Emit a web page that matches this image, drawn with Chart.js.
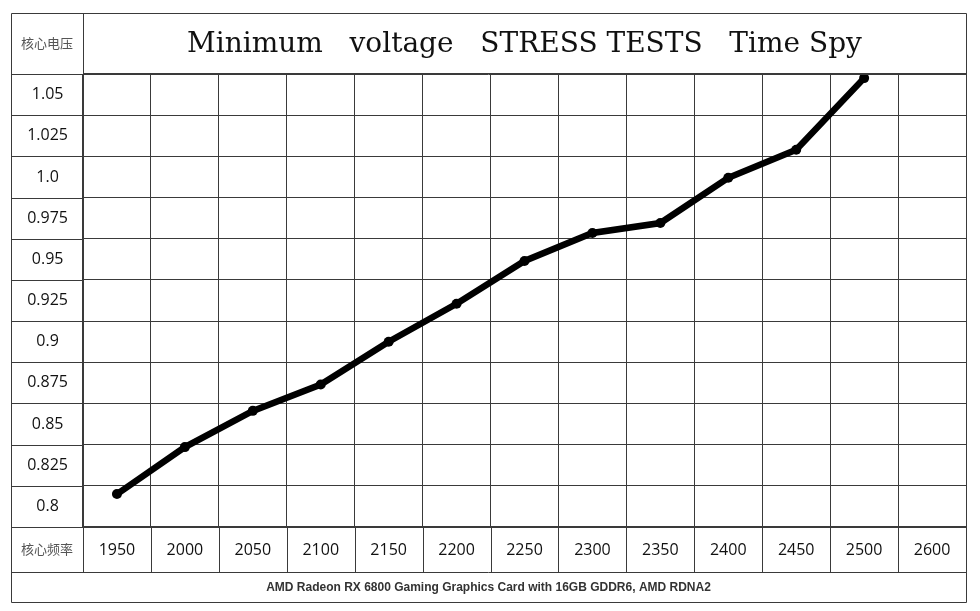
<!DOCTYPE html>
<html>
<head>
<meta charset="utf-8">
<title>Minimum voltage STRESS TESTS Time Spy</title>
<script src="https://cdn.jsdelivr.net/npm/chart.js@4.4.1/dist/chart.umd.min.js"></script>
<style>
    body { margin: 0; background: #fff; }
    canvas { display: block; }
</style>
</head>
<body>
<canvas id="voltChart" width="980" height="611"></canvas>
<script>
// core clock (MHz) columns, last column has no point
var freqLabels = ['1950', '2000', '2050', '2100', '2150', '2200', '2250', '2300', '2350', '2400', '2450', '2500', '2600'];
// minimum stable core voltage
var voltages = [0.8075, 0.836, 0.858, 0.874, 0.900, 0.923, 0.949, 0.966, 0.972, 0.9995, 1.0165, 1.060];
// row labels, bottom to top
var voltTicks = [0.8, 0.825, 0.85, 0.875, 0.9, 0.925, 0.95, 0.975, 1.0, 1.025, 1.05];
var voltTickLabels = ['0.8', '0.825', '0.85', '0.875', '0.9', '0.925', '0.95', '0.975', '1.0', '1.025', '1.05'];

var lineColor = '#3a3a3a';

// draws the table frame and the texts around the plot
var tableFrame = {
    id: 'tableFrame',
    afterDraw: function(chart) {
        var ctx = chart.ctx;
        var ca = chart.chartArea;
        var xs = chart.scales.x;
        var ys = chart.scales.y;
        var outerL = 11, outerT = 13, outerB = 602, rowB = 572;
        var i, p;

        ctx.save();
        ctx.strokeStyle = lineColor;
        ctx.lineWidth = 1;
        ctx.beginPath();
        ctx.rect(outerL + 0.5, outerT + 0.5, ca.right - outerL, outerB - outerT);
        // title row bottom
        ctx.moveTo(outerL, ca.top + 0.5); ctx.lineTo(ca.right, ca.top + 0.5);
        // first column
        ctx.moveTo(ca.left + 0.5, outerT); ctx.lineTo(ca.left + 0.5, rowB);
        // x label row
        ctx.moveTo(outerL, ca.bottom + 0.5); ctx.lineTo(ca.left, ca.bottom + 0.5);
        ctx.moveTo(outerL, rowB + 0.5); ctx.lineTo(ca.right, rowB + 0.5);
        // extend row lines into first column
        for (i = 0; i < ys.ticks.length - 1; i++) {
            p = Math.round((ys.getPixelForTick(i) + ys.getPixelForTick(i + 1)) / 2) + 0.5;
            ctx.moveTo(outerL, p); ctx.lineTo(ca.left, p);
        }
        // extend column lines into label row
        for (i = 0; i < xs.ticks.length - 1; i++) {
            p = Math.round((xs.getPixelForTick(i) + xs.getPixelForTick(i + 1)) / 2) + 0.5;
            ctx.moveTo(p, ca.bottom); ctx.lineTo(p, rowB);
        }
        ctx.stroke();

        ctx.textAlign = 'center';
        ctx.textBaseline = 'middle';

        ctx.fillStyle = '#555';
        ctx.font = '13px "Noto Sans CJK SC"';
        ctx.fillText('核心电压', (outerL + ca.left) / 2, (outerT + ca.top) / 2);
        ctx.fillText('核心频率', (outerL + ca.left) / 2, (ca.bottom + rowB) / 2);

        ctx.fillStyle = '#111';
        ctx.font = '28px "DejaVu Serif"';
        ctx.fillText('Minimum   voltage   STRESS TESTS   Time Spy', (ca.left + ca.right) / 2, (outerT + ca.top) / 2 + 1);

        ctx.fillStyle = '#333';
        ctx.font = 'bold 12px "Liberation Sans"';
        ctx.fillText('AMD Radeon RX 6800 Gaming Graphics Card with 16GB GDDR6, AMD RDNA2', (outerL + ca.right) / 2, (rowB + outerB) / 2 + 1);
        ctx.restore();
    }
};

var ctx = document.getElementById('voltChart').getContext('2d');
var voltChart = new Chart(ctx, {
    type: 'line',
    data: {
        labels: freqLabels,
        datasets: [{
            label: 'Core voltage',
            data: voltages,
            borderColor: '#000',
            backgroundColor: '#000',
            borderWidth: 6.5,
            pointRadius: 5,
            pointBackgroundColor: '#000',
            pointBorderWidth: 0,
            tension: 0
        }]
    },
    options: {
        responsive: false,
        animation: false,
        layout: {
            padding: { left: 11, right: 14, top: 74, bottom: 39 }
        },
        plugins: {
            legend: { display: false },
            tooltip: { enabled: false }
        },
        scales: {
            x: {
                type: 'category',
                offset: true,
                grid: { offset: true, color: lineColor, drawTicks: false },
                border: { color: lineColor },
                ticks: {
                    color: '#111',
                    padding: 14,
                    autoSkip: false,
                    maxRotation: 0,
                    font: { family: '"Open Sans"', size: 16 }
                },
                afterFit: function(scale) { scale.height = 45; }
            },
            y: {
                type: 'linear',
                min: 0.7875,
                max: 1.0625,
                grid: { offset: true, color: lineColor, drawTicks: false },
                border: { color: lineColor },
                afterBuildTicks: function(scale) {
                    scale.ticks = voltTicks.map(function(v) { return { value: v }; });
                },
                ticks: {
                    color: '#111',
                    padding: 15,
                    autoSkip: false,
                    crossAlign: 'center',
                    font: { family: '"Open Sans"', size: 16 },
                    callback: function(value, index) { return voltTickLabels[index]; }
                },
                afterFit: function(scale) { scale.width = 72; }
            }
        }
    },
    plugins: [tableFrame]
});
</script>
</body>
</html>
